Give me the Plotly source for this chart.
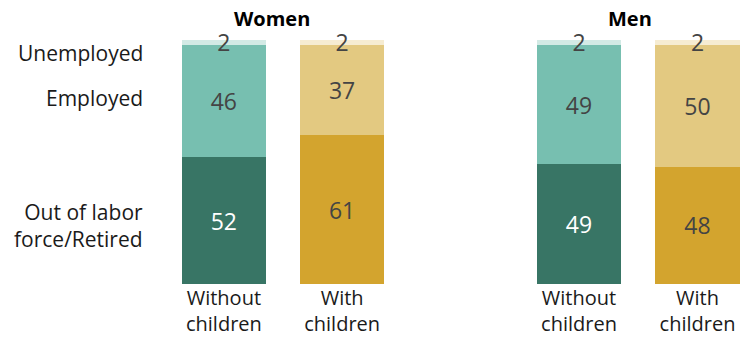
import plotly.graph_objects as go

# Labor force status (%) by sex and presence of children
categories = ["Without<br>children", "With<br>children"]

women_out = [52, 61]
women_emp = [46, 37]
women_unemp = [2, 2]

men_out = [49, 48]
men_emp = [49, 50]
men_unemp = [2, 2]

# colours per status: [without children, with children]
colors = {
    "out": ["#387565", "#D3A42E"],
    "emp": ["#77BFB0", "#E3C981"],
    "unemp": ["#D3EAE5", "#F6ECD2"],
}
text_colors = {
    "out": ["#FFFFFF", "#444444"],
    "emp": ["#444444", "#444444"],
    "unemp": ["#444444", "#444444"],
}

FONT = "Open Sans"
W, H = 740, 337

fig = go.Figure()

def add_group(vals_out, vals_emp, vals_unemp, xa, ya):
    for key, vals in (("out", vals_out), ("emp", vals_emp), ("unemp", vals_unemp)):
        fig.add_trace(go.Bar(
            x=categories, y=vals,
            text=[str(v) for v in vals],
            textposition="inside", insidetextanchor="middle", textangle=0,
            textfont=dict(family=FONT, size=23, color=text_colors[key]),
            marker=dict(color=colors[key], line=dict(width=0)),
            width=0.713, xaxis=xa, yaxis=ya, showlegend=False,
            cliponaxis=False, hoverinfo="skip",
        ))

add_group(women_out, women_emp, women_unemp, "x", "y")
add_group(men_out, men_emp, men_unemp, "x2", "y2")

ydom = [53 / H, 297 / H]
axis_common = dict(type="category", showgrid=False, zeroline=False, showline=False,
                   ticks="", ticklabelstandoff=0, automargin=False,
                   tickfont=dict(family=FONT, size=20, color="#1a1a1a"),
                   fixedrange=True)
fig.update_layout(
    barmode="stack",
    width=W, height=H,
    margin=dict(l=0, r=0, t=0, b=0),
    paper_bgcolor="white", plot_bgcolor="white",
    uniformtext=dict(minsize=23, mode="show"),
    xaxis=dict(domain=[164.75 / W, 401.25 / W], range=[-0.5, 1.5], **axis_common),
    xaxis2=dict(domain=[519.75 / W, 1.0], range=[-0.5, 1.3586], **axis_common),
    yaxis=dict(domain=ydom, range=[0, 100], visible=False, fixedrange=True, automargin=False),
    yaxis2=dict(domain=ydom, range=[0, 100], visible=False, fixedrange=True, anchor="x2",
                automargin=False),
)

def px_x(x):
    return x / W

def px_y(y):
    return 1 - y / H

# group titles
for label, cx in (("Women", 271.5), ("Men", 629.5)):
    fig.add_annotation(text=f"<b>{label}</b>", x=px_x(cx), y=px_y(19), xref="paper", yref="paper",
                       xanchor="center", yanchor="middle", showarrow=False,
                       font=dict(family=FONT, size=20, color="#000000"))

# status labels on the left
left_labels = [
    ("Unemployed", 53),
    ("Employed", 98.5),
    ("Out of labor<br>force/Retired", 226),
]
for text, cy in left_labels:
    fig.add_annotation(text=text, x=px_x(144.5), y=px_y(cy), xref="paper", yref="paper",
                       xanchor="right", yanchor="middle", align="right", showarrow=False,
                       font=dict(family=FONT, size=21, color="#1a1a1a"))

fig.write_html("out.html")
